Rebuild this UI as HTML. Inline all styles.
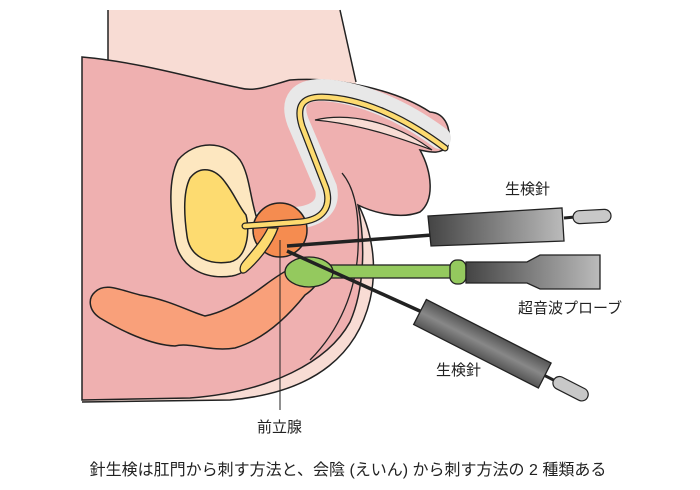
<!DOCTYPE html>
<html><head><meta charset="utf-8"><style>
html,body{margin:0;padding:0;background:#fff;width:700px;height:490px;overflow:hidden}
text{font-family:"Liberation Sans","Noto Sans CJK JP",sans-serif;fill:#222}
</style></head><body>
<svg width="700" height="490" viewBox="0 0 700 490" xmlns="http://www.w3.org/2000/svg">
<defs>
<linearGradient id="g1" x1="0" y1="0" x2="1" y2="0"><stop offset="0" stop-color="#444"/><stop offset="1" stop-color="#bbb"/></linearGradient>
<linearGradient id="g2" x1="0" y1="0" x2="0" y2="1"><stop offset="0" stop-color="#555"/><stop offset="0.5" stop-color="#888"/><stop offset="1" stop-color="#555"/></linearGradient>
</defs>
<!-- skin -->
<path d="M108,10 L340,10 L356,82 L356,200 C372,230 378,265 370,300 C358,350 320,392 230,400 L82,402 L82,57 L108,60 Z" fill="#f8dcd4"/>
<path d="M108,10 L108,60 M340,10 L356,82 M356,200 C372,230 378,265 370,300 C358,350 320,392 230,400 L82,402" fill="none" stroke="#222" stroke-width="1.5"/>
<!-- pink body -->
<path d="M82,57 C140,62 200,80 240,88 C255,92 268,86 290,80 C340,76 400,92 430,112 C446,113 452,130 448,146 C440,155 430,152 420,150 C432,172 435,200 420,212 C400,220 372,212 358,205 C366,245 364,290 350,322 C328,362 270,392 190,398 L82,400 Z" fill="#efb0b0" stroke="#222" stroke-width="1.5"/>
<!-- scrotum inner line -->
<path d="M342,173 C352,185 360,205 358,250 C356,290 340,330 310,360" fill="none" stroke="#222" stroke-width="1.3"/>
<!-- gray urethra band -->
<path d="M262,222 L296,218 C318,216 330,206 326,188 L298,122 C290,100 300,90 322,90 C362,92 405,112 440,138" fill="none" stroke="#e8e8e8" stroke-width="22" stroke-linecap="round"/>
<path d="M315,120 C350,112 395,122 432,150 C400,138 360,124 315,120 Z" fill="#f8dcd4" stroke="#222" stroke-width="1.2"/>
<!-- bladder -->
<path d="M178,160 C195,140 225,140 240,160 C250,175 250,200 258,222 C262,245 255,272 232,276 C205,280 180,268 175,240 C170,210 168,180 178,160 Z" fill="#fde7c0" stroke="#222" stroke-width="1.5"/>
<path d="M190,178 C200,165 215,168 225,182 C235,195 238,205 246,215 C250,230 248,258 230,262 C210,265 190,258 187,236 C184,215 183,192 190,178 Z" fill="#fddb70" stroke="#222" stroke-width="1.5"/>
<!-- prostate -->
<circle cx="280" cy="230" r="27" fill="#f58c50" stroke="#222" stroke-width="1.5"/>
<!-- seminal vesicle -->
<path d="M278,228 C272,245 258,262 246,272 C240,276 238,268 243,262 C253,250 262,240 268,228 Z" fill="#fddb70" stroke="#222" stroke-width="1.3"/>
<!-- urethra yellow -->
<path d="M245,226 L300,222 C322,220 332,208 326,188 L302,126 C296,106 302,97 322,97 C362,98 405,118 445,148" fill="none" stroke="#222" stroke-width="7" stroke-linecap="round"/>
<path d="M245,226 L300,222 C322,220 332,208 326,188 L302,126 C296,106 302,97 322,97 C362,98 405,118 445,148" fill="none" stroke="#fddb70" stroke-width="4.5" stroke-linecap="round"/>
<!-- rectum -->
<path d="M95,292 C105,282 120,290 140,295 C170,300 190,312 205,316 C225,312 245,300 265,285 C285,270 300,262 315,262 C325,270 320,285 305,295 C285,320 262,340 235,348 C210,352 190,342 175,346 C150,345 120,330 100,318 C88,310 88,298 95,292 Z" fill="#f9a07a" stroke="#222" stroke-width="1.5"/>
<!-- probe -->
<rect x="325" y="265" width="130" height="13" fill="#94c95e" stroke="#222" stroke-width="1.3"/>
<ellipse cx="309" cy="272" rx="24" ry="15" fill="#94c95e" stroke="#222" stroke-width="1.3"/>
<rect x="450" y="260" width="16" height="24" rx="7" fill="#94c95e" stroke="#222" stroke-width="1.3"/>
<path d="M466,262 L527,262 L540,255 L600,255 L600,289 L540,289 L527,283 L466,283 Z" fill="url(#g1)" stroke="#222" stroke-width="1.3"/>
<!-- needle 1 -->
<line x1="287" y1="246" x2="432" y2="235" stroke="#222" stroke-width="3.5"/>
<path d="M428,216 L562,208 L564,241 L431,246 Z" fill="url(#g1)" stroke="#222" stroke-width="1.3"/>
<line x1="564" y1="218" x2="575" y2="217" stroke="#222" stroke-width="3"/>
<rect x="573" y="210" width="38" height="13" rx="6.5" fill="#c8c8c8" stroke="#222" stroke-width="1.2" transform="rotate(-3 592 216)"/>
<!-- needle 2 -->
<line x1="287" y1="251" x2="422" y2="312" stroke="#222" stroke-width="3.5"/>
<g transform="translate(420,312) rotate(27)">
<rect x="0" y="-14" width="140" height="28" fill="url(#g2)" stroke="#222" stroke-width="1.3"/>
<line x1="140" y1="0" x2="152" y2="0" stroke="#222" stroke-width="3"/>
<rect x="150" y="-6.5" width="38" height="13" rx="6.5" fill="#c8c8c8" stroke="#222" stroke-width="1.2"/>
</g>
<!-- label line -->
<line x1="280" y1="240" x2="280" y2="410" stroke="#222" stroke-width="1"/>
<text x="257" y="432" font-size="15">前立腺</text>
<text x="505" y="194" font-size="15">生検針</text>
<text x="518" y="313" font-size="15">超音波プローブ</text>
<text x="436" y="375" font-size="15">生検針</text>
<text x="348" y="475" font-size="16" text-anchor="middle">針生検は肛門から刺す方法と、会陰 (えいん) から刺す方法の 2 種類ある</text>
</svg>
</body></html>
